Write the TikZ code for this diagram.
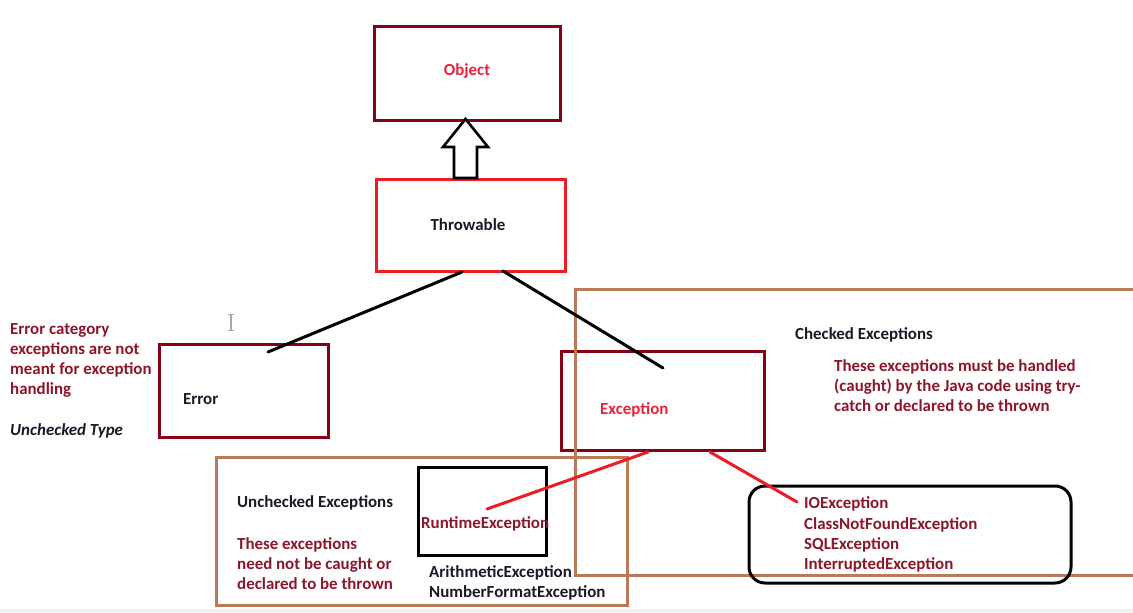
\documentclass[tikz,border=0pt]{standalone}
\usepackage{fontspec}
\setmainfont{Carlito}
\definecolor{dred}{RGB}{136,0,21}
\definecolor{bred}{RGB}{237,28,36}
\definecolor{tanc}{RGB}{185,122,87}
\definecolor{txtred}{RGB}{140,22,42}
\definecolor{txtdark}{RGB}{25,25,40}
\definecolor{objred}{RGB}{235,32,58}
\newcommand{\fsz}{\fontsize{16.9}{20}\selectfont\bfseries}
\begin{document}
\begin{tikzpicture}[x=1pt,y=-1pt,
  box/.style={draw=dred, line width=3pt, inner sep=0pt},
  tbox/.style={draw=tanc, line width=3pt, inner sep=0pt},
  txt/.style={anchor=base west, inner sep=0pt, font=\fsz, text=txtdark},
  rtxt/.style={txt, text=txtred},
  ctxt/.style={anchor=base, inner sep=0pt, font=\fsz},
  conn/.style={line width=3pt, line cap=round},
]
\useasboundingbox (0,0) rectangle (1133,613);
\clip (0,0) rectangle (1133,613);
\fill[white] (0,0) rectangle (1133,613);
\fill[gray!10] (0,609) rectangle (1133,613);

% boxes
\node[box, minimum width=186, minimum height=94] (obj) at (467.5,73.5) {};
\node[box, draw=bred, minimum width=189, minimum height=92] (thr) at (471,225) {};
\node[box, minimum width=169, minimum height=93] (err) at (244,390.5) {};
\node[box, minimum width=203, minimum height=99] (exc) at (663,401) {};
\node[box, draw=black, minimum width=128, minimum height=88] (rte) at (482.5,511.5) {};

% tan group boxes
\node[tbox, minimum width=580, minimum height=286] (chkgrp) at (865,432) {};
\node[tbox, minimum width=411, minimum height=148] (unchgrp) at (422,531) {};

% rounded box
\node[draw=black, line width=3pt, rounded corners=16pt, inner sep=0pt,
      minimum width=322, minimum height=97] (chk) at (910,534.5) {};

% hollow arrow Throwable -> Object
\draw[line width=2.6pt, fill=white, line join=miter]
  (454,178) -- (454,147) -- (443,147) -- (465.5,119) -- (488,147) -- (477,147) -- (477,178) -- cycle;

% connector end points
\coordinate (tA) at (462,272);
\coordinate (tB) at (503,271);
\coordinate (eA) at (268,352);
\coordinate (eB) at (663,368);
\coordinate (xA) at (648,452);
\coordinate (xB) at (710,452);
\coordinate (rA) at (487,509);
\coordinate (iA) at (797,502);

\draw[conn] (tA) -- (eA);
\draw[conn] (tB) -- (eB);
\draw[conn, draw=bred] (xA) -- (rA);
\draw[conn, draw=bred] (xB) -- (iA);

% cursor
\draw[gray!70, line width=1.3pt] (231,315) -- (231,330)
  (228,314.5) -- (234,314.5) (228,330.5) -- (234,330.5);

% texts in boxes
\node[ctxt, text=objred] (objt) at (467,75) {Object};
\node[ctxt, text=txtdark] (thrt) at (468,230) {Throwable};
\node[txt] (errt) at (183,404) {Error};
\node[txt, text=objred] (exct) at (600,414) {Exception};
\node[rtxt] (rtet) at (421,528) {RuntimeException};

% left notes
\node[rtxt] (l1) at (10,334) {Error category};
\node[rtxt] (l2) at (10,354) {exceptions are not};
\node[rtxt] (l3) at (10,374) {meant for exception};
\node[rtxt] (l4) at (10,394) {handling};
\node[txt, font=\fsz\itshape] (l5) at (10,435) {Unchecked Type};

% checked notes
\node[txt] (c0) at (795,339) {Checked Exceptions};
\node[rtxt] (c1) at (834,371) {These exceptions must be handled};
\node[rtxt] (c2) at (834,391) {(caught) by the Java code using try-};
\node[rtxt] (c3) at (834,411) {catch or declared to be thrown};

% unchecked notes
\node[txt] (u0) at (237,507) {Unchecked Exceptions};
\node[rtxt] (u1) at (237,549) {These exceptions};
\node[rtxt] (u2) at (237,569) {need not be caught or};
\node[rtxt] (u3) at (237,589) {declared to be thrown};

\node[txt] (a1) at (429,577) {ArithmeticException};
\node[txt] (a2) at (429,597) {NumberFormatException};

% checked list
\node[rtxt] (k1) at (804,508) {IOException};
\node[rtxt] (k2) at (804,529) {ClassNotFoundException};
\node[rtxt] (k3) at (804,549) {SQLException};
\node[rtxt] (k4) at (804,569) {InterruptedException};
\end{tikzpicture}
\end{document}
